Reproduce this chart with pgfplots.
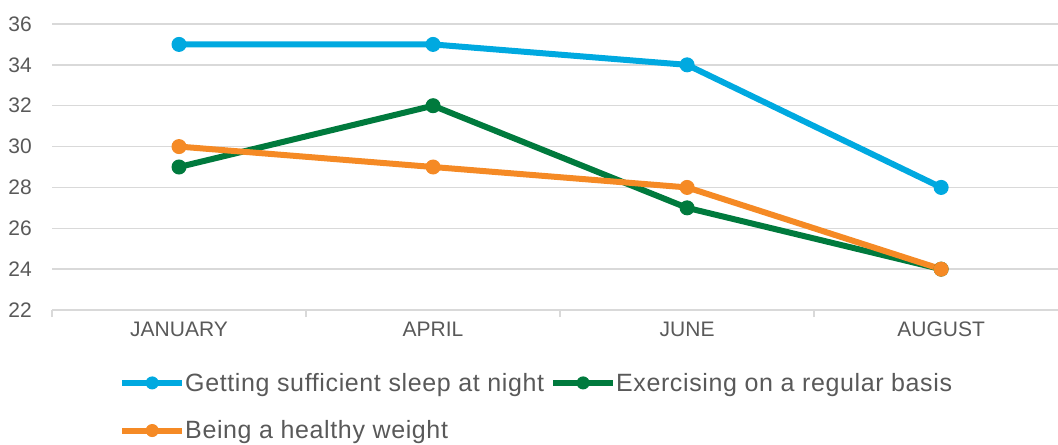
\documentclass[border=0pt]{standalone}
\usepackage{fontspec}
\setmainfont{Liberation Sans}
\newfontfamily\legfont[LetterSpace=2.5]{Liberation Sans}
\usepackage{pgfplots}
\pgfplotsset{compat=1.18}
\definecolor{cblue}{HTML}{00A9E0}
\definecolor{cgreen}{HTML}{007A3D}
\definecolor{corange}{HTML}{F58A25}
\definecolor{gridc}{HTML}{D9D9D9}
\definecolor{tcol}{HTML}{595959}
\begin{document}
\begin{tikzpicture}
\begin{axis}[
  at={(0,0)}, anchor=south west,
  scale only axis, width=1006bp, height=286bp,
  xmin=-0.5, xmax=3.46, ymin=22, ymax=36,
  xtick={0,1,2,3}, xticklabels={JANUARY,APRIL,JUNE,AUGUST},
  ytick={22,24,...,36},
  axis x line*=bottom, axis y line*=left,
  y axis line style={draw=none},
  x axis line style={draw=gridc, line width=1.5bp},
  ymajorgrids, grid style={draw=gridc, line width=1.5bp},
  major tick length=0pt,
  extra x ticks={-0.5,0.5,1.5,2.5}, extra x tick labels={},
  extra x tick style={major tick length=7bp, tick align=outside, tick style={draw=gridc, line width=1.5bp}, grid=none},
  tick label style={font=\fontsize{21bp}{24bp}\selectfont, text=tcol},
  /pgf/number format/assume math mode=true,
  yticklabel style={anchor=east, inner sep=0pt, xshift=-20bp},
  xticklabel style={anchor=north, inner sep=0pt, yshift=-12bp},
  legend columns=2,
  legend cell align=left,
  legend style={at={(0.0666,-0.220)}, anchor=north west, draw=none, fill=none,
    font=\legfont\fontsize{25bp}{30bp}\selectfont, text=tcol, inner sep=0pt,
    nodes={inner sep=0pt}, row sep=28bp,
    /tikz/every even column/.append style={column sep=6bp}},
  legend image code/.code={\draw[mark repeat=2,mark phase=2,mark size=6bp] plot coordinates {(0bp,0bp) (30bp,0bp) (60bp,0bp)};},
  every axis plot/.append style={line width=6bp, mark=*, mark size=7bp, mark options={line width=1bp}},
]
\addplot[color=cblue] coordinates {(0,35) (1,35) (2,34) (3,28)};
\addlegendentry{Getting sufficient sleep at night}
\addplot[color=cgreen] coordinates {(0,29) (1,32) (2,27) (3,24)};
\addlegendentry{Exercising on a regular basis}
\addplot[color=corange] coordinates {(0,30) (1,29) (2,28) (3,24)};
\addlegendentry{Being a healthy weight}
\end{axis}
\pgfresetboundingbox
\path[use as bounding box] (-52bp,-135bp) rectangle (1006bp,310bp);
\end{tikzpicture}
\end{document}
